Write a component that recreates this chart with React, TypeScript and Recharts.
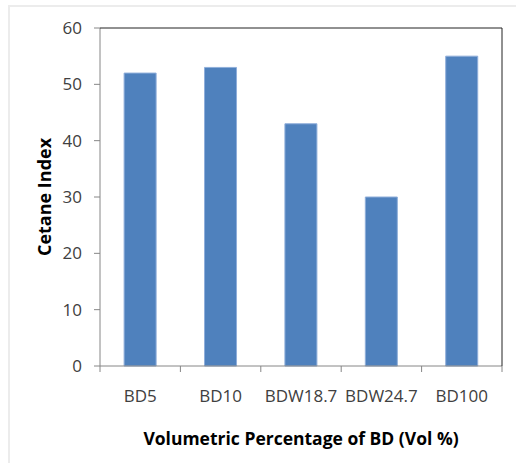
import React from 'react';
import { BarChart, Bar, XAxis, YAxis, Label } from 'recharts';

const categories = ['BD5', 'BD10', 'BDW18.7', 'BDW24.7', 'BD100'];
const cetaneIndex = [52, 53, 43, 30, 55];
const yTicks = [0, 10, 20, 30, 40, 50, 60];

const data = categories.map((name, i) => ({ name, value: cetaneIndex[i] }));

const FONT = '"Open Sans", "Liberation Sans", sans-serif';
const TEXT = '#404040';
const AXIS = '#868686';

const CHART_W = 516;
const CHART_H = 465;
const MARGIN = { top: 28, right: 14, left: 0, bottom: 0 };
const Y_AXIS_W = 100;
const X_AXIS_H = 99;
const PLOT_H = CHART_H - MARGIN.top - MARGIN.bottom - X_AXIS_H;
const PLOT_W = CHART_W - MARGIN.left - MARGIN.right - Y_AXIS_W;

// label at the category centre, tick marks on the category boundaries (Excel style);
// the last category also closes the plot frame with the dark top and right edges
const CategoryTick = (props: any) => {
  const { x, y, payload } = props;
  const half = payload && payload.offset ? payload.offset : PLOT_W / categories.length / 2;
  const isLast = payload && payload.value === categories[categories.length - 1];
  const right = x + half;
  return (
    <g>
      <line x1={x - half} x2={x - half} y1={y} y2={y + 6} stroke={AXIS} />
      {isLast && <line x1={right} x2={right} y1={y} y2={y + 6} stroke={AXIS} />}
      {isLast && (
        <path
          d={`M${right},${y}V${y - PLOT_H}H${right - PLOT_W}`}
          fill="none"
          stroke="#222"
          strokeWidth={1}
        />
      )}
      <text x={x} y={y + 24} dy="0.71em" textAnchor="middle" fill={TEXT} fontSize={17} fontFamily={FONT}>
        {payload.value}
      </text>
    </g>
  );
};

export default function App() {
  return (
    <div style={{ position: 'fixed', left: 0, top: 0, width: CHART_W, height: CHART_H, background: '#fff' }}>
      <div
        style={{
          position: 'absolute', left: 8, top: 5, width: 508, height: 458,
          borderLeft: '2px solid #ececec', borderTop: '2px solid #ececec', boxSizing: 'border-box',
        }}
      />
      <div style={{ position: 'absolute', left: 0, top: 0 }}>
        <BarChart
          width={CHART_W}
          height={CHART_H}
          data={data}
          margin={MARGIN}
          barCategoryGap="30%"
          style={{ fontFamily: FONT }}
        >
          <XAxis
            dataKey="name"
            height={X_AXIS_H}
            axisLine={{ stroke: AXIS }}
            tickLine={false}
            tickSize={0}
            tickMargin={0}
            tick={<CategoryTick />}
            interval={0}
          >
            <Label
              value="Volumetric Percentage of BD (Vol %)"
              position="insideBottom"
              offset={20}
              style={{ fill: '#000', fontSize: 17.5, fontWeight: 700, fontFamily: FONT }}
            />
          </XAxis>
          <YAxis
            width={Y_AXIS_W}
            domain={[0, 60]}
            ticks={yTicks}
            tickSize={6}
            tickMargin={12}
            axisLine={{ stroke: AXIS }}
            tickLine={{ stroke: AXIS }}
            tick={{ fill: TEXT, fontSize: 17, fontFamily: FONT }}
          >
            <Label
              value="Cetane Index"
              angle={-90}
              position="insideLeft"
              offset={45}
              style={{ fill: '#000', fontSize: 18, fontWeight: 700, fontFamily: FONT, textAnchor: 'middle' }}
            />
          </YAxis>
          <Bar dataKey="value" fill="#4F81BD" stroke="#8FAEDA" strokeWidth={1} isAnimationActive={false} />
        </BarChart>
      </div>
    </div>
  );
}
